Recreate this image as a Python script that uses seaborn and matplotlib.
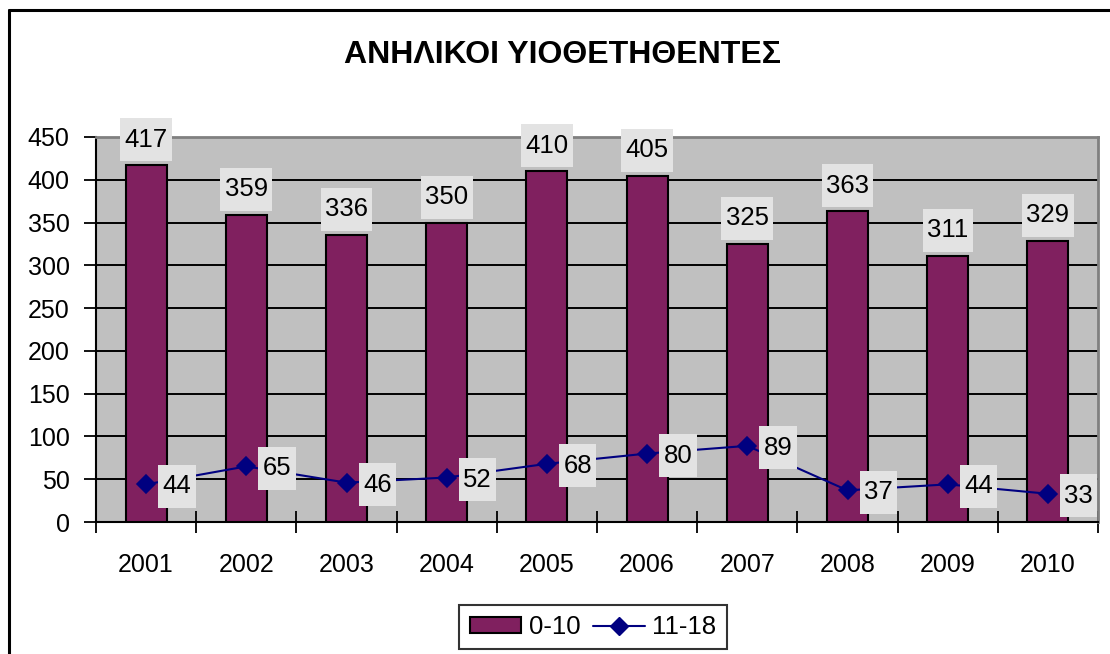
import matplotlib
matplotlib.use("Agg")
import matplotlib.pyplot as plt
import seaborn as sns
from matplotlib.patches import Patch
from matplotlib.lines import Line2D
from matplotlib.path import Path

years = ["2001", "2002", "2003", "2004", "2005", "2006", "2007", "2008", "2009", "2010"]
age_0_10 = [417, 359, 336, 350, 410, 405, 325, 363, 311, 329]
age_11_18 = [44, 65, 46, 52, 68, 80, 89, 37, 44, 33]
yticks = [0, 50, 100, 150, 200, 250, 300, 350, 400, 450]
title = "ΑΝΗΛΙΚΟΙ ΥΙΟΘΕΤΗΘΕΝΤΕΣ"
labels = ["0-10", "11-18"]

bar_color = "#80205f"
line_color = "#000080"

sns.set_theme(style="white")
plt.rcParams["font.family"] = ["Liberation Sans", "DejaVu Sans"]
plt.rcParams["text.color"] = "black"
plt.rcParams["xtick.labelcolor"] = "black"
plt.rcParams["ytick.labelcolor"] = "black"


def label_box(x0, y0, width, height, mutation_size):
    padx = 0.17 * mutation_size
    pady = 0.37 * mutation_size
    x0, y0 = x0 - padx, y0 - pady
    x1, y1 = x0 + width + 2 * padx, y0 + height + 2 * pady
    return Path([(x0, y0), (x1, y0), (x1, y1), (x0, y1), (x0, y0)],
                [Path.MOVETO, Path.LINETO, Path.LINETO, Path.LINETO, Path.CLOSEPOLY])


fig = plt.figure(figsize=(11.1, 6.54), dpi=100)
ax = fig.add_axes([96/1110, 1-522/654, (1098-96)/1110, (522-137)/654])
ax.set_facecolor("#c0c0c0")

sns.barplot(x=years, y=age_0_10, color=bar_color, saturation=1, width=0.41,
            edgecolor="black", linewidth=1.5, ax=ax, zorder=3)
sns.pointplot(x=years, y=age_11_18, color=line_color, markers="D",
              linewidth=1.5, markersize=9, ax=ax, zorder=4)

ax.set_ylim(0, 450)
ax.set_xlim(-0.5, len(years) - 0.5)
ax.set_yticks(yticks)
ax.set_yticklabels([str(t) for t in yticks])
ax.yaxis.grid(True, color="black", linewidth=1.4, zorder=0)
ax.set_axisbelow(True)
ax.set_xlabel("")
ax.set_ylabel("")

ax.set_xticks([i + 0.5 for i in range(-1, len(years))], minor=True)
ax.tick_params(axis="x", which="minor", direction="inout", length=16, width=1.3, color="black", bottom=True)
ax.tick_params(axis="x", which="major", length=0, pad=22, labelsize=18)
ax.tick_params(axis="y", which="major", direction="out", length=9, width=1.3, color="black", left=True, pad=10, labelsize=18)

for s in ["left", "bottom"]:
    ax.spines[s].set_color("black")
    ax.spines[s].set_linewidth(1.5)
for s in ["top", "right"]:
    ax.spines[s].set_color("#808080")
    ax.spines[s].set_linewidth(2)

box = dict(boxstyle=label_box, facecolor="#e3e3e3", edgecolor="none")
for i, v in enumerate(age_0_10):
    ax.annotate(str(v), (i, v), xytext=(0, 9.7), textcoords="offset points",
                ha="center", va="bottom", fontsize=18.5, bbox=box, zorder=6)
for i, v in enumerate(age_11_18):
    ax.annotate(str(v), (i, v), xytext=(11.8, -1.5), textcoords="offset points",
                ha="left", va="center", fontsize=18.5, bbox=box, zorder=6)

fig.text(563/1110, 1-55/654, title, ha="center", va="center", fontsize=23, fontweight="bold")

handles = [Patch(facecolor=bar_color, edgecolor="black", linewidth=1.5),
           Line2D([0], [0], color=line_color, marker="D", markersize=9, linewidth=1.5)]
leg = fig.legend(handles, labels, loc="center", bbox_to_anchor=(593/1110, 1-627/654),
                 ncol=2, fontsize=18.5, frameon=True, fancybox=False,
                 handlelength=2.0, handleheight=0.55, columnspacing=0.5, handletextpad=0.3,
                 borderpad=0.4, edgecolor="black")
leg.get_frame().set_linewidth(1.5)

fig.add_artist(Line2D([9/1110, 9/1110], [0, 1-10/654], transform=fig.transFigure, color="black", linewidth=2.2))
fig.add_artist(Line2D([9/1110, 1], [1-10/654, 1-10/654], transform=fig.transFigure, color="black", linewidth=2.2))

fig.savefig("out.png", dpi=100, facecolor="white")
